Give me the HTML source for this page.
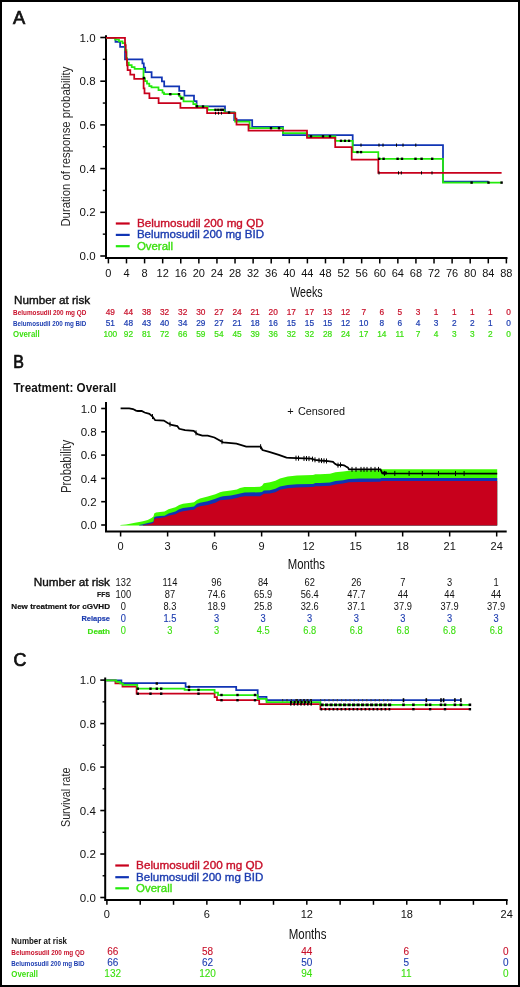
<!DOCTYPE html>
<html><head><meta charset="utf-8"><title>Figure</title>
<style>
html,body{margin:0;padding:0;background:#fff;}
body{width:520px;height:987px;overflow:hidden;}
svg{display:block;font-family:"Liberation Sans", sans-serif;will-change:transform;}
</style></head><body>
<svg width="520" height="987" viewBox="0 0 520 987">
<rect x="0" y="0" width="520" height="987" fill="#fff"/>
<rect x="1" y="1" width="518" height="985" fill="none" stroke="#000" stroke-width="2"/>
<text x="13.1" y="23.8" font-size="17.5" fill="#111" text-anchor="start" font-weight="normal" textLength="12.2" lengthAdjust="spacingAndGlyphs" stroke="#111" stroke-width="0.7">A</text>
<path d="M106 35.3 V259 M105 258 H507.5" stroke="#000" stroke-width="2" fill="none"/>
<line x1="100.3" y1="256" x2="106" y2="256" stroke="#000" stroke-width="1.6"/>
<text x="95.6" y="260.1" font-size="11.5" fill="#111" text-anchor="end" font-weight="normal">0.0</text>
<line x1="100.3" y1="212.3" x2="106" y2="212.3" stroke="#000" stroke-width="1.6"/>
<text x="95.6" y="216.4" font-size="11.5" fill="#111" text-anchor="end" font-weight="normal">0.2</text>
<line x1="100.3" y1="168.6" x2="106" y2="168.6" stroke="#000" stroke-width="1.6"/>
<text x="95.6" y="172.7" font-size="11.5" fill="#111" text-anchor="end" font-weight="normal">0.4</text>
<line x1="100.3" y1="124.9" x2="106" y2="124.9" stroke="#000" stroke-width="1.6"/>
<text x="95.6" y="129" font-size="11.5" fill="#111" text-anchor="end" font-weight="normal">0.6</text>
<line x1="100.3" y1="81.2" x2="106" y2="81.2" stroke="#000" stroke-width="1.6"/>
<text x="95.6" y="85.3" font-size="11.5" fill="#111" text-anchor="end" font-weight="normal">0.8</text>
<line x1="100.3" y1="37.5" x2="106" y2="37.5" stroke="#000" stroke-width="1.6"/>
<text x="95.6" y="41.6" font-size="11.5" fill="#111" text-anchor="end" font-weight="normal">1.0</text>
<line x1="102.8" y1="234.15" x2="106" y2="234.15" stroke="#000" stroke-width="1.4"/>
<line x1="102.8" y1="190.45" x2="106" y2="190.45" stroke="#000" stroke-width="1.4"/>
<line x1="102.8" y1="146.75" x2="106" y2="146.75" stroke="#000" stroke-width="1.4"/>
<line x1="102.8" y1="103.05" x2="106" y2="103.05" stroke="#000" stroke-width="1.4"/>
<line x1="102.8" y1="59.35" x2="106" y2="59.35" stroke="#000" stroke-width="1.4"/>
<line x1="108.4" y1="258" x2="108.4" y2="263.4" stroke="#000" stroke-width="1.5"/>
<text x="108.4" y="276.66" font-size="11" fill="#111" text-anchor="middle" font-weight="normal">0</text>
<line x1="126.49" y1="258" x2="126.49" y2="263.4" stroke="#000" stroke-width="1.5"/>
<text x="126.49" y="276.66" font-size="11" fill="#111" text-anchor="middle" font-weight="normal">4</text>
<line x1="144.58" y1="258" x2="144.58" y2="263.4" stroke="#000" stroke-width="1.5"/>
<text x="144.58" y="276.66" font-size="11" fill="#111" text-anchor="middle" font-weight="normal">8</text>
<line x1="162.67" y1="258" x2="162.67" y2="263.4" stroke="#000" stroke-width="1.5"/>
<text x="162.67" y="276.66" font-size="11" fill="#111" text-anchor="middle" font-weight="normal">12</text>
<line x1="180.76" y1="258" x2="180.76" y2="263.4" stroke="#000" stroke-width="1.5"/>
<text x="180.76" y="276.66" font-size="11" fill="#111" text-anchor="middle" font-weight="normal">16</text>
<line x1="198.85" y1="258" x2="198.85" y2="263.4" stroke="#000" stroke-width="1.5"/>
<text x="198.85" y="276.66" font-size="11" fill="#111" text-anchor="middle" font-weight="normal">20</text>
<line x1="216.94" y1="258" x2="216.94" y2="263.4" stroke="#000" stroke-width="1.5"/>
<text x="216.94" y="276.66" font-size="11" fill="#111" text-anchor="middle" font-weight="normal">24</text>
<line x1="235.03" y1="258" x2="235.03" y2="263.4" stroke="#000" stroke-width="1.5"/>
<text x="235.03" y="276.66" font-size="11" fill="#111" text-anchor="middle" font-weight="normal">28</text>
<line x1="253.12" y1="258" x2="253.12" y2="263.4" stroke="#000" stroke-width="1.5"/>
<text x="253.12" y="276.66" font-size="11" fill="#111" text-anchor="middle" font-weight="normal">32</text>
<line x1="271.21" y1="258" x2="271.21" y2="263.4" stroke="#000" stroke-width="1.5"/>
<text x="271.21" y="276.66" font-size="11" fill="#111" text-anchor="middle" font-weight="normal">36</text>
<line x1="289.3" y1="258" x2="289.3" y2="263.4" stroke="#000" stroke-width="1.5"/>
<text x="289.3" y="276.66" font-size="11" fill="#111" text-anchor="middle" font-weight="normal">40</text>
<line x1="307.39" y1="258" x2="307.39" y2="263.4" stroke="#000" stroke-width="1.5"/>
<text x="307.39" y="276.66" font-size="11" fill="#111" text-anchor="middle" font-weight="normal">44</text>
<line x1="325.48" y1="258" x2="325.48" y2="263.4" stroke="#000" stroke-width="1.5"/>
<text x="325.48" y="276.66" font-size="11" fill="#111" text-anchor="middle" font-weight="normal">48</text>
<line x1="343.57" y1="258" x2="343.57" y2="263.4" stroke="#000" stroke-width="1.5"/>
<text x="343.57" y="276.66" font-size="11" fill="#111" text-anchor="middle" font-weight="normal">52</text>
<line x1="361.66" y1="258" x2="361.66" y2="263.4" stroke="#000" stroke-width="1.5"/>
<text x="361.66" y="276.66" font-size="11" fill="#111" text-anchor="middle" font-weight="normal">56</text>
<line x1="379.75" y1="258" x2="379.75" y2="263.4" stroke="#000" stroke-width="1.5"/>
<text x="379.75" y="276.66" font-size="11" fill="#111" text-anchor="middle" font-weight="normal">60</text>
<line x1="397.84" y1="258" x2="397.84" y2="263.4" stroke="#000" stroke-width="1.5"/>
<text x="397.84" y="276.66" font-size="11" fill="#111" text-anchor="middle" font-weight="normal">64</text>
<line x1="415.93" y1="258" x2="415.93" y2="263.4" stroke="#000" stroke-width="1.5"/>
<text x="415.93" y="276.66" font-size="11" fill="#111" text-anchor="middle" font-weight="normal">68</text>
<line x1="434.02" y1="258" x2="434.02" y2="263.4" stroke="#000" stroke-width="1.5"/>
<text x="434.02" y="276.66" font-size="11" fill="#111" text-anchor="middle" font-weight="normal">72</text>
<line x1="452.11" y1="258" x2="452.11" y2="263.4" stroke="#000" stroke-width="1.5"/>
<text x="452.11" y="276.66" font-size="11" fill="#111" text-anchor="middle" font-weight="normal">76</text>
<line x1="470.2" y1="258" x2="470.2" y2="263.4" stroke="#000" stroke-width="1.5"/>
<text x="470.2" y="276.66" font-size="11" fill="#111" text-anchor="middle" font-weight="normal">80</text>
<line x1="488.29" y1="258" x2="488.29" y2="263.4" stroke="#000" stroke-width="1.5"/>
<text x="488.29" y="276.66" font-size="11" fill="#111" text-anchor="middle" font-weight="normal">84</text>
<line x1="506.38" y1="258" x2="506.38" y2="263.4" stroke="#000" stroke-width="1.5"/>
<text x="506.38" y="276.66" font-size="11" fill="#111" text-anchor="middle" font-weight="normal">88</text>
<text x="290.2" y="296.6" font-size="15" fill="#111" text-anchor="start" font-weight="normal" textLength="32.5" lengthAdjust="spacingAndGlyphs">Weeks</text>
<text transform="translate(70.2,226.6) rotate(-90)" font-size="13.6" fill="#2a2a2a" textLength="160" lengthAdjust="spacingAndGlyphs">Duration of response probability</text>
<polyline points="106,37.8 115.5,37.8 115.5,41.8 120.1,41.8 120.1,46.8 125,46.8 125,59.3 142.4,59.3 142.4,63.3 143.8,63.3 143.8,67.6 145.2,67.6 145.2,72.2 151.6,72.2 151.6,77.3 161.9,77.3 161.9,81.3 164.2,81.3 164.2,86.3 179.2,86.3 179.2,90.9 184.4,90.9 184.4,95.7 194,95.7 194,101.2 196.6,101.2 196.6,106.3 225,106.3 225,112.3 234.2,112.3 234.2,120 252.2,120 252.2,126.9 283,126.9 283,135 352.7,135 352.7,145.1 443,145.1 443,181.6 488.5,181.6" fill="none" stroke="#1034b4" stroke-width="1.75" stroke-linejoin="miter" stroke-linecap="butt"/>
<polyline points="106,37.8 115.2,37.8 115.2,39.6 119,39.6 119,41.3 122.5,41.3 122.5,43 125.3,43 125.3,50 126.5,50 126.5,58 127.1,58 127.1,62.6 128.8,62.6 128.8,65 131.7,65 131.7,67 134.6,67 134.6,68.8 143.5,68.8 143.5,78.3 145,78.3 145,81 147,81 147,83.5 149.3,83.5 149.3,86 151.5,86 151.5,87.3 158.5,87.3 158.5,90.2 162.5,90.2 162.5,92.5 164,92.5 164,94.2 179.2,94.2 179.2,96.2 180.4,96.2 180.4,97.3 183.5,97.3 183.5,101.3 193.3,101.3 193.3,104.2 196.1,104.2 196.1,106.5 207.7,106.5 207.7,109.8 224.4,109.8 224.4,112.5 235.1,112.5 235.1,121.5 249.6,121.5 249.6,128.2 283,128.2 283,133 307,133 307,136.3 335.4,136.3 335.4,140.8 352.7,140.8 352.7,152.1 378.3,152.1 378.3,158.8 443,158.8 443,182.6 501.6,182.6" fill="none" stroke="#24ea0c" stroke-width="1.75" stroke-linejoin="miter" stroke-linecap="butt"/>
<polyline points="106,37.8 125,37.8 125,45 125.7,45 125.7,52 126.3,52 126.3,59 127,59 127,65.4 127.6,65.4 127.6,70.1 130.3,70.1 130.3,74.7 134.2,74.7 134.2,78.8 143.6,78.8 143.6,88.3 144.5,88.3 144.5,93.4 149.4,93.4 149.4,98.2 158.6,98.2 158.6,103.2 180.4,103.2 180.4,107.8 207.1,107.8 207.1,113.2 235.3,113.2 235.3,118.7 236.5,118.7 236.5,124.6 248.5,124.6 248.5,130.5 307,130.5 307,137.9 335.2,137.9 335.2,147 351.7,147 351.7,159.5 378.3,159.5 378.3,172.9 501.6,172.9" fill="none" stroke="#c8001c" stroke-width="1.75" stroke-linejoin="miter" stroke-linecap="butt"/>
<rect x="142.7" y="76.8" width="2.4" height="2.4" fill="#000"/>
<rect x="169.1" y="93" width="2.4" height="2.4" fill="#000"/>
<rect x="177.8" y="93" width="2.4" height="2.4" fill="#000"/>
<rect x="180.3" y="97.3" width="2.4" height="2.4" fill="#000"/>
<rect x="214.3" y="108.6" width="2.4" height="2.4" fill="#000"/>
<rect x="217.1" y="108.6" width="2.4" height="2.4" fill="#000"/>
<rect x="219.8" y="108.6" width="2.4" height="2.4" fill="#000"/>
<rect x="221.8" y="108.6" width="2.4" height="2.4" fill="#000"/>
<rect x="227.8" y="111.3" width="2.4" height="2.4" fill="#000"/>
<rect x="269.8" y="127" width="2.4" height="2.4" fill="#000"/>
<rect x="277.8" y="127" width="2.4" height="2.4" fill="#000"/>
<rect x="309.8" y="135.1" width="2.4" height="2.4" fill="#000"/>
<rect x="321.8" y="135.1" width="2.4" height="2.4" fill="#000"/>
<rect x="328.8" y="135.1" width="2.4" height="2.4" fill="#000"/>
<rect x="339.8" y="139.6" width="2.4" height="2.4" fill="#000"/>
<rect x="343.8" y="139.6" width="2.4" height="2.4" fill="#000"/>
<rect x="347.8" y="139.6" width="2.4" height="2.4" fill="#000"/>
<rect x="356.3" y="150.9" width="2.4" height="2.4" fill="#000"/>
<rect x="359.8" y="150.9" width="2.4" height="2.4" fill="#000"/>
<rect x="378" y="157.6" width="2.4" height="2.4" fill="#000"/>
<rect x="382.4" y="157.6" width="2.4" height="2.4" fill="#000"/>
<rect x="396.4" y="157.6" width="2.4" height="2.4" fill="#000"/>
<rect x="400.8" y="157.6" width="2.4" height="2.4" fill="#000"/>
<rect x="414.3" y="157.6" width="2.4" height="2.4" fill="#000"/>
<rect x="420.4" y="157.6" width="2.4" height="2.4" fill="#000"/>
<rect x="431" y="157.6" width="2.4" height="2.4" fill="#000"/>
<rect x="470.4" y="181.4" width="2.4" height="2.4" fill="#000"/>
<rect x="487.3" y="181.4" width="2.4" height="2.4" fill="#000"/>
<rect x="500.4" y="181.4" width="2.4" height="2.4" fill="#000"/>
<rect x="195.8" y="105.1" width="2.4" height="2.4" fill="#000"/>
<rect x="201.8" y="105.3" width="2.4" height="2.4" fill="#000"/>
<rect x="360.5" y="143.5" width="1" height="3.2" fill="#000"/>
<rect x="378.5" y="143.5" width="1" height="3.2" fill="#000"/>
<rect x="382.5" y="143.5" width="1" height="3.2" fill="#000"/>
<rect x="396" y="143.5" width="1" height="3.2" fill="#000"/>
<rect x="402.5" y="143.5" width="1" height="3.2" fill="#000"/>
<rect x="415.3" y="143.5" width="1" height="3.2" fill="#000"/>
<rect x="378.5" y="171.3" width="1" height="3.2" fill="#000"/>
<rect x="398" y="171.3" width="1" height="3.2" fill="#000"/>
<rect x="400.8" y="171.3" width="1" height="3.2" fill="#000"/>
<rect x="421" y="171.3" width="1" height="3.2" fill="#000"/>
<rect x="431.5" y="171.3" width="1" height="3.2" fill="#000"/>
<rect x="215" y="111.8" width="1" height="2.8" fill="#000"/>
<rect x="218" y="111.8" width="1" height="2.8" fill="#000"/>
<rect x="221" y="111.8" width="1" height="2.8" fill="#000"/>
<line x1="115.8" y1="223.5" x2="129.7" y2="223.5" stroke="#c8001c" stroke-width="2.2"/>
<line x1="115.8" y1="234.9" x2="129.7" y2="234.9" stroke="#1034b4" stroke-width="2.2"/>
<line x1="115.8" y1="246.2" x2="129.7" y2="246.2" stroke="#24ea0c" stroke-width="2.2"/>
<text x="136.9" y="226.7" font-size="11" fill="#c8102a" text-anchor="start" font-weight="normal" textLength="126.8" lengthAdjust="spacingAndGlyphs" stroke="#c8102a" stroke-width="0.35">Belumosudil 200 mg QD</text>
<text x="136.9" y="238.4" font-size="11" fill="#1c3cb0" text-anchor="start" font-weight="normal" textLength="127.1" lengthAdjust="spacingAndGlyphs" stroke="#1c3cb0" stroke-width="0.35">Belumosudil 200 mg BID</text>
<text x="136.9" y="249.5" font-size="11" fill="#3ce010" text-anchor="start" font-weight="normal" textLength="36.2" lengthAdjust="spacingAndGlyphs" stroke="#3ce010" stroke-width="0.35">Overall</text>
<text x="14.1" y="303.5" font-size="11.5" fill="#111" text-anchor="start" font-weight="normal" textLength="76" lengthAdjust="spacingAndGlyphs" stroke="#111" stroke-width="0.4">Number at risk</text>
<text x="13.1" y="315.1" font-size="7" fill="#c8102a" text-anchor="start" font-weight="bold" textLength="73.2" lengthAdjust="spacingAndGlyphs">Belumosudil 200 mg QD</text>
<text x="13.1" y="325.6" font-size="7" fill="#1c3cb0" text-anchor="start" font-weight="bold" textLength="73.2" lengthAdjust="spacingAndGlyphs">Belumosudil 200 mg BID</text>
<text x="13.1" y="336.5" font-size="9" fill="#3ce010" text-anchor="start" font-weight="bold" textLength="26.5" lengthAdjust="spacingAndGlyphs">Overall</text>
<text x="110.3" y="315.09" font-size="8.3" fill="#c8102a" text-anchor="middle" font-weight="normal" stroke="#c8102a" stroke-width="0.2">49</text>
<text x="110.3" y="325.79" font-size="8.3" fill="#1c3cb0" text-anchor="middle" font-weight="normal" stroke="#1c3cb0" stroke-width="0.2">51</text>
<text x="110.3" y="336.59" font-size="8.3" fill="#3ce010" text-anchor="middle" font-weight="normal" stroke="#3ce010" stroke-width="0.2">100</text>
<text x="128.4" y="315.09" font-size="8.3" fill="#c8102a" text-anchor="middle" font-weight="normal" stroke="#c8102a" stroke-width="0.2">44</text>
<text x="128.4" y="325.79" font-size="8.3" fill="#1c3cb0" text-anchor="middle" font-weight="normal" stroke="#1c3cb0" stroke-width="0.2">48</text>
<text x="128.4" y="336.59" font-size="8.3" fill="#3ce010" text-anchor="middle" font-weight="normal" stroke="#3ce010" stroke-width="0.2">92</text>
<text x="146.5" y="315.09" font-size="8.3" fill="#c8102a" text-anchor="middle" font-weight="normal" stroke="#c8102a" stroke-width="0.2">38</text>
<text x="146.5" y="325.79" font-size="8.3" fill="#1c3cb0" text-anchor="middle" font-weight="normal" stroke="#1c3cb0" stroke-width="0.2">43</text>
<text x="146.5" y="336.59" font-size="8.3" fill="#3ce010" text-anchor="middle" font-weight="normal" stroke="#3ce010" stroke-width="0.2">81</text>
<text x="164.6" y="315.09" font-size="8.3" fill="#c8102a" text-anchor="middle" font-weight="normal" stroke="#c8102a" stroke-width="0.2">32</text>
<text x="164.6" y="325.79" font-size="8.3" fill="#1c3cb0" text-anchor="middle" font-weight="normal" stroke="#1c3cb0" stroke-width="0.2">40</text>
<text x="164.6" y="336.59" font-size="8.3" fill="#3ce010" text-anchor="middle" font-weight="normal" stroke="#3ce010" stroke-width="0.2">72</text>
<text x="182.7" y="315.09" font-size="8.3" fill="#c8102a" text-anchor="middle" font-weight="normal" stroke="#c8102a" stroke-width="0.2">32</text>
<text x="182.7" y="325.79" font-size="8.3" fill="#1c3cb0" text-anchor="middle" font-weight="normal" stroke="#1c3cb0" stroke-width="0.2">34</text>
<text x="182.7" y="336.59" font-size="8.3" fill="#3ce010" text-anchor="middle" font-weight="normal" stroke="#3ce010" stroke-width="0.2">66</text>
<text x="200.8" y="315.09" font-size="8.3" fill="#c8102a" text-anchor="middle" font-weight="normal" stroke="#c8102a" stroke-width="0.2">30</text>
<text x="200.8" y="325.79" font-size="8.3" fill="#1c3cb0" text-anchor="middle" font-weight="normal" stroke="#1c3cb0" stroke-width="0.2">29</text>
<text x="200.8" y="336.59" font-size="8.3" fill="#3ce010" text-anchor="middle" font-weight="normal" stroke="#3ce010" stroke-width="0.2">59</text>
<text x="218.9" y="315.09" font-size="8.3" fill="#c8102a" text-anchor="middle" font-weight="normal" stroke="#c8102a" stroke-width="0.2">27</text>
<text x="218.9" y="325.79" font-size="8.3" fill="#1c3cb0" text-anchor="middle" font-weight="normal" stroke="#1c3cb0" stroke-width="0.2">27</text>
<text x="218.9" y="336.59" font-size="8.3" fill="#3ce010" text-anchor="middle" font-weight="normal" stroke="#3ce010" stroke-width="0.2">54</text>
<text x="237" y="315.09" font-size="8.3" fill="#c8102a" text-anchor="middle" font-weight="normal" stroke="#c8102a" stroke-width="0.2">24</text>
<text x="237" y="325.79" font-size="8.3" fill="#1c3cb0" text-anchor="middle" font-weight="normal" stroke="#1c3cb0" stroke-width="0.2">21</text>
<text x="237" y="336.59" font-size="8.3" fill="#3ce010" text-anchor="middle" font-weight="normal" stroke="#3ce010" stroke-width="0.2">45</text>
<text x="255.1" y="315.09" font-size="8.3" fill="#c8102a" text-anchor="middle" font-weight="normal" stroke="#c8102a" stroke-width="0.2">21</text>
<text x="255.1" y="325.79" font-size="8.3" fill="#1c3cb0" text-anchor="middle" font-weight="normal" stroke="#1c3cb0" stroke-width="0.2">18</text>
<text x="255.1" y="336.59" font-size="8.3" fill="#3ce010" text-anchor="middle" font-weight="normal" stroke="#3ce010" stroke-width="0.2">39</text>
<text x="273.2" y="315.09" font-size="8.3" fill="#c8102a" text-anchor="middle" font-weight="normal" stroke="#c8102a" stroke-width="0.2">20</text>
<text x="273.2" y="325.79" font-size="8.3" fill="#1c3cb0" text-anchor="middle" font-weight="normal" stroke="#1c3cb0" stroke-width="0.2">16</text>
<text x="273.2" y="336.59" font-size="8.3" fill="#3ce010" text-anchor="middle" font-weight="normal" stroke="#3ce010" stroke-width="0.2">36</text>
<text x="291.3" y="315.09" font-size="8.3" fill="#c8102a" text-anchor="middle" font-weight="normal" stroke="#c8102a" stroke-width="0.2">17</text>
<text x="291.3" y="325.79" font-size="8.3" fill="#1c3cb0" text-anchor="middle" font-weight="normal" stroke="#1c3cb0" stroke-width="0.2">15</text>
<text x="291.3" y="336.59" font-size="8.3" fill="#3ce010" text-anchor="middle" font-weight="normal" stroke="#3ce010" stroke-width="0.2">32</text>
<text x="309.4" y="315.09" font-size="8.3" fill="#c8102a" text-anchor="middle" font-weight="normal" stroke="#c8102a" stroke-width="0.2">17</text>
<text x="309.4" y="325.79" font-size="8.3" fill="#1c3cb0" text-anchor="middle" font-weight="normal" stroke="#1c3cb0" stroke-width="0.2">15</text>
<text x="309.4" y="336.59" font-size="8.3" fill="#3ce010" text-anchor="middle" font-weight="normal" stroke="#3ce010" stroke-width="0.2">32</text>
<text x="327.5" y="315.09" font-size="8.3" fill="#c8102a" text-anchor="middle" font-weight="normal" stroke="#c8102a" stroke-width="0.2">13</text>
<text x="327.5" y="325.79" font-size="8.3" fill="#1c3cb0" text-anchor="middle" font-weight="normal" stroke="#1c3cb0" stroke-width="0.2">15</text>
<text x="327.5" y="336.59" font-size="8.3" fill="#3ce010" text-anchor="middle" font-weight="normal" stroke="#3ce010" stroke-width="0.2">28</text>
<text x="345.6" y="315.09" font-size="8.3" fill="#c8102a" text-anchor="middle" font-weight="normal" stroke="#c8102a" stroke-width="0.2">12</text>
<text x="345.6" y="325.79" font-size="8.3" fill="#1c3cb0" text-anchor="middle" font-weight="normal" stroke="#1c3cb0" stroke-width="0.2">12</text>
<text x="345.6" y="336.59" font-size="8.3" fill="#3ce010" text-anchor="middle" font-weight="normal" stroke="#3ce010" stroke-width="0.2">24</text>
<text x="363.7" y="315.09" font-size="8.3" fill="#c8102a" text-anchor="middle" font-weight="normal" stroke="#c8102a" stroke-width="0.2">7</text>
<text x="363.7" y="325.79" font-size="8.3" fill="#1c3cb0" text-anchor="middle" font-weight="normal" stroke="#1c3cb0" stroke-width="0.2">10</text>
<text x="363.7" y="336.59" font-size="8.3" fill="#3ce010" text-anchor="middle" font-weight="normal" stroke="#3ce010" stroke-width="0.2">17</text>
<text x="381.8" y="315.09" font-size="8.3" fill="#c8102a" text-anchor="middle" font-weight="normal" stroke="#c8102a" stroke-width="0.2">6</text>
<text x="381.8" y="325.79" font-size="8.3" fill="#1c3cb0" text-anchor="middle" font-weight="normal" stroke="#1c3cb0" stroke-width="0.2">8</text>
<text x="381.8" y="336.59" font-size="8.3" fill="#3ce010" text-anchor="middle" font-weight="normal" stroke="#3ce010" stroke-width="0.2">14</text>
<text x="399.9" y="315.09" font-size="8.3" fill="#c8102a" text-anchor="middle" font-weight="normal" stroke="#c8102a" stroke-width="0.2">5</text>
<text x="399.9" y="325.79" font-size="8.3" fill="#1c3cb0" text-anchor="middle" font-weight="normal" stroke="#1c3cb0" stroke-width="0.2">6</text>
<text x="399.9" y="336.59" font-size="8.3" fill="#3ce010" text-anchor="middle" font-weight="normal" stroke="#3ce010" stroke-width="0.2">11</text>
<text x="418" y="315.09" font-size="8.3" fill="#c8102a" text-anchor="middle" font-weight="normal" stroke="#c8102a" stroke-width="0.2">3</text>
<text x="418" y="325.79" font-size="8.3" fill="#1c3cb0" text-anchor="middle" font-weight="normal" stroke="#1c3cb0" stroke-width="0.2">4</text>
<text x="418" y="336.59" font-size="8.3" fill="#3ce010" text-anchor="middle" font-weight="normal" stroke="#3ce010" stroke-width="0.2">7</text>
<text x="436.1" y="315.09" font-size="8.3" fill="#c8102a" text-anchor="middle" font-weight="normal" stroke="#c8102a" stroke-width="0.2">1</text>
<text x="436.1" y="325.79" font-size="8.3" fill="#1c3cb0" text-anchor="middle" font-weight="normal" stroke="#1c3cb0" stroke-width="0.2">3</text>
<text x="436.1" y="336.59" font-size="8.3" fill="#3ce010" text-anchor="middle" font-weight="normal" stroke="#3ce010" stroke-width="0.2">4</text>
<text x="454.2" y="315.09" font-size="8.3" fill="#c8102a" text-anchor="middle" font-weight="normal" stroke="#c8102a" stroke-width="0.2">1</text>
<text x="454.2" y="325.79" font-size="8.3" fill="#1c3cb0" text-anchor="middle" font-weight="normal" stroke="#1c3cb0" stroke-width="0.2">2</text>
<text x="454.2" y="336.59" font-size="8.3" fill="#3ce010" text-anchor="middle" font-weight="normal" stroke="#3ce010" stroke-width="0.2">3</text>
<text x="472.3" y="315.09" font-size="8.3" fill="#c8102a" text-anchor="middle" font-weight="normal" stroke="#c8102a" stroke-width="0.2">1</text>
<text x="472.3" y="325.79" font-size="8.3" fill="#1c3cb0" text-anchor="middle" font-weight="normal" stroke="#1c3cb0" stroke-width="0.2">2</text>
<text x="472.3" y="336.59" font-size="8.3" fill="#3ce010" text-anchor="middle" font-weight="normal" stroke="#3ce010" stroke-width="0.2">3</text>
<text x="490.4" y="315.09" font-size="8.3" fill="#c8102a" text-anchor="middle" font-weight="normal" stroke="#c8102a" stroke-width="0.2">1</text>
<text x="490.4" y="325.79" font-size="8.3" fill="#1c3cb0" text-anchor="middle" font-weight="normal" stroke="#1c3cb0" stroke-width="0.2">1</text>
<text x="490.4" y="336.59" font-size="8.3" fill="#3ce010" text-anchor="middle" font-weight="normal" stroke="#3ce010" stroke-width="0.2">2</text>
<text x="508.5" y="315.09" font-size="8.3" fill="#c8102a" text-anchor="middle" font-weight="normal" stroke="#c8102a" stroke-width="0.2">0</text>
<text x="508.5" y="325.79" font-size="8.3" fill="#1c3cb0" text-anchor="middle" font-weight="normal" stroke="#1c3cb0" stroke-width="0.2">0</text>
<text x="508.5" y="336.59" font-size="8.3" fill="#3ce010" text-anchor="middle" font-weight="normal" stroke="#3ce010" stroke-width="0.2">0</text>
<text x="13.2" y="367.9" font-size="17.5" fill="#111" text-anchor="start" font-weight="normal" textLength="10.7" lengthAdjust="spacingAndGlyphs" stroke="#111" stroke-width="0.7">B</text>
<text x="13.6" y="391.8" font-size="12.3" fill="#111" text-anchor="start" font-weight="bold" textLength="102.6" lengthAdjust="spacingAndGlyphs">Treatment: Overall</text>
<path d="M106 401.9 V532.4 M105 531.4 H506.7" stroke="#000" stroke-width="2" fill="none"/>
<line x1="101.2" y1="525" x2="106" y2="525" stroke="#000" stroke-width="1.6"/>
<text x="96.7" y="529.1" font-size="11.5" fill="#111" text-anchor="end" font-weight="normal">0.0</text>
<line x1="101.2" y1="501.7" x2="106" y2="501.7" stroke="#000" stroke-width="1.6"/>
<text x="96.7" y="505.8" font-size="11.5" fill="#111" text-anchor="end" font-weight="normal">0.2</text>
<line x1="101.2" y1="478.4" x2="106" y2="478.4" stroke="#000" stroke-width="1.6"/>
<text x="96.7" y="482.5" font-size="11.5" fill="#111" text-anchor="end" font-weight="normal">0.4</text>
<line x1="101.2" y1="455.1" x2="106" y2="455.1" stroke="#000" stroke-width="1.6"/>
<text x="96.7" y="459.2" font-size="11.5" fill="#111" text-anchor="end" font-weight="normal">0.6</text>
<line x1="101.2" y1="431.8" x2="106" y2="431.8" stroke="#000" stroke-width="1.6"/>
<text x="96.7" y="435.9" font-size="11.5" fill="#111" text-anchor="end" font-weight="normal">0.8</text>
<line x1="101.2" y1="408.5" x2="106" y2="408.5" stroke="#000" stroke-width="1.6"/>
<text x="96.7" y="412.6" font-size="11.5" fill="#111" text-anchor="end" font-weight="normal">1.0</text>
<line x1="120.6" y1="531.4" x2="120.6" y2="536.5" stroke="#000" stroke-width="1.5"/>
<text x="120.6" y="549.96" font-size="11" fill="#111" text-anchor="middle" font-weight="normal">0</text>
<line x1="167.61" y1="531.4" x2="167.61" y2="536.5" stroke="#000" stroke-width="1.5"/>
<text x="167.61" y="549.96" font-size="11" fill="#111" text-anchor="middle" font-weight="normal">3</text>
<line x1="214.62" y1="531.4" x2="214.62" y2="536.5" stroke="#000" stroke-width="1.5"/>
<text x="214.62" y="549.96" font-size="11" fill="#111" text-anchor="middle" font-weight="normal">6</text>
<line x1="261.63" y1="531.4" x2="261.63" y2="536.5" stroke="#000" stroke-width="1.5"/>
<text x="261.63" y="549.96" font-size="11" fill="#111" text-anchor="middle" font-weight="normal">9</text>
<line x1="308.64" y1="531.4" x2="308.64" y2="536.5" stroke="#000" stroke-width="1.5"/>
<text x="308.64" y="549.96" font-size="11" fill="#111" text-anchor="middle" font-weight="normal">12</text>
<line x1="355.65" y1="531.4" x2="355.65" y2="536.5" stroke="#000" stroke-width="1.5"/>
<text x="355.65" y="549.96" font-size="11" fill="#111" text-anchor="middle" font-weight="normal">15</text>
<line x1="402.66" y1="531.4" x2="402.66" y2="536.5" stroke="#000" stroke-width="1.5"/>
<text x="402.66" y="549.96" font-size="11" fill="#111" text-anchor="middle" font-weight="normal">18</text>
<line x1="449.67" y1="531.4" x2="449.67" y2="536.5" stroke="#000" stroke-width="1.5"/>
<text x="449.67" y="549.96" font-size="11" fill="#111" text-anchor="middle" font-weight="normal">21</text>
<line x1="496.68" y1="531.4" x2="496.68" y2="536.5" stroke="#000" stroke-width="1.5"/>
<text x="496.68" y="549.96" font-size="11" fill="#111" text-anchor="middle" font-weight="normal">24</text>
<text x="287.8" y="569.1" font-size="14.5" fill="#111" text-anchor="start" font-weight="normal" textLength="37.2" lengthAdjust="spacingAndGlyphs">Months</text>
<text transform="translate(70.6,493.1) rotate(-90)" font-size="14.8" fill="#2a2a2a" textLength="53.2" lengthAdjust="spacingAndGlyphs">Probability</text>
<polygon points="120.4,525 126,524.5 130,523.8 135,522.7 139.2,522 143,521.2 147.7,520 151.5,518.1 153.5,516.5 154.2,513.5 156,512.5 160,512.1 164.6,511.5 168.5,509.2 175.4,507.3 179.2,505 183,503.8 190.8,502.7 194,502.3 196.9,500 200,498.6 207.7,496.5 215.4,494.2 220,492.3 223,491.4 230.8,490.4 236.9,489.6 240,488.1 244.6,487.1 260,486.8 262,485.8 263.8,483.2 270,482.3 275.4,480.8 280,478.5 287.7,476.5 296.9,475.5 313,474.9 315.4,474.3 320,474.3 330,473.8 335.4,472.2 343,471.5 349,470.7 360,470.3 380,470.2 381.5,469.2 497.2,469.2 497.2,525.4 120.4,525.4" fill="#3cfa00" stroke="none"/>
<polygon points="139.2,525 143,524.2 147.7,523.1 151.5,522.3 153.5,521.5 154.2,517.3 156,516.5 160,516 164.6,515.8 168.5,513.5 175.4,511.5 179.2,509.2 183,508.1 190.8,506.9 194,506.4 196.9,503.8 200,502.7 207.7,501.2 215.4,498.8 220,496.9 223,496.3 230.8,495.4 236.9,494.2 240,493.5 244.6,492.5 260,492.3 262,491.9 263.8,490.4 270,490.2 275.4,488.8 280,486.5 287.7,485.1 296.9,484.2 313,483.9 315.4,482.9 320,482.9 330,482.6 335.4,481.1 343,480.3 349,478.9 360,478.6 380,478.4 381.5,478 497.2,478 497.2,525.4 139.2,525.4" fill="#1034b4" stroke="none"/>
<polygon points="143,525 147.7,524.5 151.5,523.5 153.5,522.7 154.2,519.2 156,518.3 160,517.9 164.6,517.3 168.5,515.8 175.4,514.2 179.2,512.3 183,511.2 190.8,510 194,509.8 196.9,507.2 200,506.2 207.7,505 215.4,502.7 220,500.2 223,500 230.8,499.2 236.9,498.1 240,496.9 244.6,496.2 260,496.2 262,495 263.8,493.8 270,493.5 275.4,492.3 280,489.8 287.7,488.2 296.9,487.4 313,487 315.4,486.2 320,486.3 330,485.8 335.4,484.5 343,483.4 349,482.2 360,481.9 380,481.8 381.5,481.1 497.2,481.1 497.2,525.4 143,525.4" fill="#c8001c" stroke="none"/>
<polyline points="120.6,408.3 129.2,408.3 133,409 136,410.6 137.9,411 141.7,411 144.6,412.5 149.4,413.8 152.3,416.3 155.2,420.2 163.8,420.6 167.7,423 171.5,425 177.3,426 179.2,428.8 185,430.2 193.7,430.8 197.5,434.2 202.3,435.6 207.7,435.6 214.4,437.5 223.1,442.3 236.5,443.7 246.2,446.7 260.6,446.7 262.5,450 269.2,451.9 278.8,454.8 286.5,457.7 290,457.9 311.2,458.7 315,459.8 320,460.5 328,461.1 333,461.8 335,463.8 337.7,465.2 341,464.8 344,465.3 346,466.5 348,467.6 349,469.4 380.5,469.4 382.3,473.4 497.2,473.6" fill="none" stroke="#000" stroke-width="1.8" stroke-linejoin="miter" stroke-linecap="butt" stroke-linejoin="round"/>
<rect x="152" y="414.07" width="1" height="5" fill="#000"/>
<rect x="169.5" y="421.71" width="1" height="5" fill="#000"/>
<rect x="195.5" y="430.36" width="1" height="5" fill="#000"/>
<rect x="221.5" y="439.19" width="1" height="5" fill="#000"/>
<rect x="260.1" y="444.2" width="1" height="5" fill="#000"/>
<rect x="295.5" y="455.63" width="1" height="5" fill="#000"/>
<rect x="298" y="455.72" width="1" height="5" fill="#000"/>
<rect x="303.5" y="455.93" width="1" height="5" fill="#000"/>
<rect x="306" y="456.02" width="1" height="5" fill="#000"/>
<rect x="308.5" y="456.12" width="1" height="5" fill="#000"/>
<rect x="312" y="456.58" width="1" height="5" fill="#000"/>
<rect x="314.5" y="457.3" width="1" height="5" fill="#000"/>
<rect x="318.5" y="457.86" width="1" height="5" fill="#000"/>
<rect x="321" y="458.11" width="1" height="5" fill="#000"/>
<rect x="323.5" y="458.3" width="1" height="5" fill="#000"/>
<rect x="326" y="458.49" width="1" height="5" fill="#000"/>
<rect x="337.5" y="462.66" width="1" height="5" fill="#000"/>
<rect x="340" y="462.36" width="1" height="5" fill="#000"/>
<rect x="351.5" y="466.9" width="1" height="5" fill="#000"/>
<rect x="355.5" y="466.9" width="1" height="5" fill="#000"/>
<rect x="360.5" y="466.9" width="1" height="5" fill="#000"/>
<rect x="363.5" y="466.9" width="1" height="5" fill="#000"/>
<rect x="366.5" y="466.9" width="1" height="5" fill="#000"/>
<rect x="370.5" y="466.9" width="1" height="5" fill="#000"/>
<rect x="374.5" y="466.9" width="1" height="5" fill="#000"/>
<rect x="378" y="466.9" width="1" height="5" fill="#000"/>
<rect x="384" y="470.9" width="1" height="5" fill="#000"/>
<rect x="394.3" y="470.92" width="1" height="5" fill="#000"/>
<rect x="408.6" y="470.95" width="1" height="5" fill="#000"/>
<rect x="421.8" y="470.97" width="1" height="5" fill="#000"/>
<rect x="438" y="471" width="1" height="5" fill="#000"/>
<rect x="455" y="471.03" width="1" height="5" fill="#000"/>
<rect x="463.6" y="471.04" width="1" height="5" fill="#000"/>
<rect x="382.9" y="471.6" width="2.8" height="2.8" fill="#000"/>
<rect x="384.1" y="471.6" width="2.8" height="2.8" fill="#000"/>
<text x="287.3" y="415.4" font-size="11" fill="#111" text-anchor="start" font-weight="normal">+</text>
<text x="297.9" y="415.4" font-size="11" fill="#111" text-anchor="start" font-weight="normal" textLength="47.1" lengthAdjust="spacingAndGlyphs">Censored</text>
<text x="110" y="585.6" font-size="11.5" fill="#111" text-anchor="end" font-weight="normal" textLength="76.3" lengthAdjust="spacingAndGlyphs" stroke="#111" stroke-width="0.4">Number at risk</text>
<text x="110" y="597" font-size="7.9" fill="#111" text-anchor="end" font-weight="bold" textLength="13" lengthAdjust="spacingAndGlyphs" stroke="#111" stroke-width="0.2">FFS</text>
<text x="110" y="609.1" font-size="7.9" fill="#111" text-anchor="end" font-weight="bold" textLength="98.7" lengthAdjust="spacingAndGlyphs" stroke="#111" stroke-width="0.2">New treatment for cGVHD</text>
<text x="110" y="620.9" font-size="7.9" fill="#1c3cb0" text-anchor="end" font-weight="bold" textLength="28.6" lengthAdjust="spacingAndGlyphs" stroke="#1c3cb0" stroke-width="0.15">Relapse</text>
<text x="110" y="633.6" font-size="7.9" fill="#3ce010" text-anchor="end" font-weight="bold" textLength="22.4" lengthAdjust="spacingAndGlyphs" stroke="#3ce010" stroke-width="0.15">Death</text>
<text transform="translate(123.3,586) scale(0.93,1)" font-size="10" fill="#111" text-anchor="middle">132</text>
<text transform="translate(169.9,586) scale(0.93,1)" font-size="10" fill="#111" text-anchor="middle">114</text>
<text transform="translate(216.5,586) scale(0.93,1)" font-size="10" fill="#111" text-anchor="middle">96</text>
<text transform="translate(263.1,586) scale(0.93,1)" font-size="10" fill="#111" text-anchor="middle">84</text>
<text transform="translate(309.7,586) scale(0.93,1)" font-size="10" fill="#111" text-anchor="middle">62</text>
<text transform="translate(356.3,586) scale(0.93,1)" font-size="10" fill="#111" text-anchor="middle">26</text>
<text transform="translate(402.9,586) scale(0.93,1)" font-size="10" fill="#111" text-anchor="middle">7</text>
<text transform="translate(449.5,586) scale(0.93,1)" font-size="10" fill="#111" text-anchor="middle">3</text>
<text transform="translate(496.1,586) scale(0.93,1)" font-size="10" fill="#111" text-anchor="middle">1</text>
<text transform="translate(123.3,597.9) scale(0.93,1)" font-size="10" fill="#111" text-anchor="middle">100</text>
<text transform="translate(169.9,597.9) scale(0.93,1)" font-size="10" fill="#111" text-anchor="middle">87</text>
<text transform="translate(216.5,597.9) scale(0.93,1)" font-size="10" fill="#111" text-anchor="middle">74.6</text>
<text transform="translate(263.1,597.9) scale(0.93,1)" font-size="10" fill="#111" text-anchor="middle">65.9</text>
<text transform="translate(309.7,597.9) scale(0.93,1)" font-size="10" fill="#111" text-anchor="middle">56.4</text>
<text transform="translate(356.3,597.9) scale(0.93,1)" font-size="10" fill="#111" text-anchor="middle">47.7</text>
<text transform="translate(402.9,597.9) scale(0.93,1)" font-size="10" fill="#111" text-anchor="middle">44</text>
<text transform="translate(449.5,597.9) scale(0.93,1)" font-size="10" fill="#111" text-anchor="middle">44</text>
<text transform="translate(496.1,597.9) scale(0.93,1)" font-size="10" fill="#111" text-anchor="middle">44</text>
<text transform="translate(123.3,609.8) scale(0.93,1)" font-size="10" fill="#111" text-anchor="middle">0</text>
<text transform="translate(169.9,609.8) scale(0.93,1)" font-size="10" fill="#111" text-anchor="middle">8.3</text>
<text transform="translate(216.5,609.8) scale(0.93,1)" font-size="10" fill="#111" text-anchor="middle">18.9</text>
<text transform="translate(263.1,609.8) scale(0.93,1)" font-size="10" fill="#111" text-anchor="middle">25.8</text>
<text transform="translate(309.7,609.8) scale(0.93,1)" font-size="10" fill="#111" text-anchor="middle">32.6</text>
<text transform="translate(356.3,609.8) scale(0.93,1)" font-size="10" fill="#111" text-anchor="middle">37.1</text>
<text transform="translate(402.9,609.8) scale(0.93,1)" font-size="10" fill="#111" text-anchor="middle">37.9</text>
<text transform="translate(449.5,609.8) scale(0.93,1)" font-size="10" fill="#111" text-anchor="middle">37.9</text>
<text transform="translate(496.1,609.8) scale(0.93,1)" font-size="10" fill="#111" text-anchor="middle">37.9</text>
<text transform="translate(123.3,621.6) scale(0.93,1)" font-size="10" fill="#1c3cb0" text-anchor="middle" stroke="#1c3cb0" stroke-width="0.12">0</text>
<text transform="translate(169.9,621.6) scale(0.93,1)" font-size="10" fill="#1c3cb0" text-anchor="middle" stroke="#1c3cb0" stroke-width="0.12">1.5</text>
<text transform="translate(216.5,621.6) scale(0.93,1)" font-size="10" fill="#1c3cb0" text-anchor="middle" stroke="#1c3cb0" stroke-width="0.12">3</text>
<text transform="translate(263.1,621.6) scale(0.93,1)" font-size="10" fill="#1c3cb0" text-anchor="middle" stroke="#1c3cb0" stroke-width="0.12">3</text>
<text transform="translate(309.7,621.6) scale(0.93,1)" font-size="10" fill="#1c3cb0" text-anchor="middle" stroke="#1c3cb0" stroke-width="0.12">3</text>
<text transform="translate(356.3,621.6) scale(0.93,1)" font-size="10" fill="#1c3cb0" text-anchor="middle" stroke="#1c3cb0" stroke-width="0.12">3</text>
<text transform="translate(402.9,621.6) scale(0.93,1)" font-size="10" fill="#1c3cb0" text-anchor="middle" stroke="#1c3cb0" stroke-width="0.12">3</text>
<text transform="translate(449.5,621.6) scale(0.93,1)" font-size="10" fill="#1c3cb0" text-anchor="middle" stroke="#1c3cb0" stroke-width="0.12">3</text>
<text transform="translate(496.1,621.6) scale(0.93,1)" font-size="10" fill="#1c3cb0" text-anchor="middle" stroke="#1c3cb0" stroke-width="0.12">3</text>
<text transform="translate(123.3,634) scale(0.93,1)" font-size="10" fill="#3ce010" text-anchor="middle" stroke="#3ce010" stroke-width="0.12">0</text>
<text transform="translate(169.9,634) scale(0.93,1)" font-size="10" fill="#3ce010" text-anchor="middle" stroke="#3ce010" stroke-width="0.12">3</text>
<text transform="translate(216.5,634) scale(0.93,1)" font-size="10" fill="#3ce010" text-anchor="middle" stroke="#3ce010" stroke-width="0.12">3</text>
<text transform="translate(263.1,634) scale(0.93,1)" font-size="10" fill="#3ce010" text-anchor="middle" stroke="#3ce010" stroke-width="0.12">4.5</text>
<text transform="translate(309.7,634) scale(0.93,1)" font-size="10" fill="#3ce010" text-anchor="middle" stroke="#3ce010" stroke-width="0.12">6.8</text>
<text transform="translate(356.3,634) scale(0.93,1)" font-size="10" fill="#3ce010" text-anchor="middle" stroke="#3ce010" stroke-width="0.12">6.8</text>
<text transform="translate(402.9,634) scale(0.93,1)" font-size="10" fill="#3ce010" text-anchor="middle" stroke="#3ce010" stroke-width="0.12">6.8</text>
<text transform="translate(449.5,634) scale(0.93,1)" font-size="10" fill="#3ce010" text-anchor="middle" stroke="#3ce010" stroke-width="0.12">6.8</text>
<text transform="translate(496.1,634) scale(0.93,1)" font-size="10" fill="#3ce010" text-anchor="middle" stroke="#3ce010" stroke-width="0.12">6.8</text>
<text x="13.6" y="665.5" font-size="17.5" fill="#111" text-anchor="start" font-weight="normal" textLength="12.9" lengthAdjust="spacingAndGlyphs" stroke="#111" stroke-width="0.7">C</text>
<path d="M105.2 677.4 V901 M104.2 900 H507.7" stroke="#000" stroke-width="2" fill="none"/>
<line x1="100.3" y1="897.5" x2="105.2" y2="897.5" stroke="#000" stroke-width="1.6"/>
<text x="95.8" y="901.6" font-size="11.5" fill="#111" text-anchor="end" font-weight="normal">0.0</text>
<line x1="100.3" y1="854.02" x2="105.2" y2="854.02" stroke="#000" stroke-width="1.6"/>
<text x="95.8" y="858.12" font-size="11.5" fill="#111" text-anchor="end" font-weight="normal">0.2</text>
<line x1="100.3" y1="810.54" x2="105.2" y2="810.54" stroke="#000" stroke-width="1.6"/>
<text x="95.8" y="814.64" font-size="11.5" fill="#111" text-anchor="end" font-weight="normal">0.4</text>
<line x1="100.3" y1="767.06" x2="105.2" y2="767.06" stroke="#000" stroke-width="1.6"/>
<text x="95.8" y="771.16" font-size="11.5" fill="#111" text-anchor="end" font-weight="normal">0.6</text>
<line x1="100.3" y1="723.58" x2="105.2" y2="723.58" stroke="#000" stroke-width="1.6"/>
<text x="95.8" y="727.68" font-size="11.5" fill="#111" text-anchor="end" font-weight="normal">0.8</text>
<line x1="100.3" y1="680.1" x2="105.2" y2="680.1" stroke="#000" stroke-width="1.6"/>
<text x="95.8" y="684.2" font-size="11.5" fill="#111" text-anchor="end" font-weight="normal">1.0</text>
<line x1="102.6" y1="875.76" x2="105.2" y2="875.76" stroke="#000" stroke-width="1.4"/>
<line x1="102.6" y1="832.28" x2="105.2" y2="832.28" stroke="#000" stroke-width="1.4"/>
<line x1="102.6" y1="788.8" x2="105.2" y2="788.8" stroke="#000" stroke-width="1.4"/>
<line x1="102.6" y1="745.32" x2="105.2" y2="745.32" stroke="#000" stroke-width="1.4"/>
<line x1="102.6" y1="701.84" x2="105.2" y2="701.84" stroke="#000" stroke-width="1.4"/>
<line x1="106.9" y1="900" x2="106.9" y2="904.8" stroke="#000" stroke-width="1.5"/>
<text x="106.9" y="918.26" font-size="11" fill="#111" text-anchor="middle" font-weight="normal">0</text>
<line x1="140.22" y1="900" x2="140.22" y2="904.8" stroke="#000" stroke-width="1.5"/>
<line x1="173.54" y1="900" x2="173.54" y2="904.8" stroke="#000" stroke-width="1.5"/>
<line x1="206.86" y1="900" x2="206.86" y2="904.8" stroke="#000" stroke-width="1.5"/>
<text x="206.86" y="918.26" font-size="11" fill="#111" text-anchor="middle" font-weight="normal">6</text>
<line x1="240.18" y1="900" x2="240.18" y2="904.8" stroke="#000" stroke-width="1.5"/>
<line x1="273.5" y1="900" x2="273.5" y2="904.8" stroke="#000" stroke-width="1.5"/>
<line x1="306.82" y1="900" x2="306.82" y2="904.8" stroke="#000" stroke-width="1.5"/>
<text x="306.82" y="918.26" font-size="11" fill="#111" text-anchor="middle" font-weight="normal">12</text>
<line x1="340.14" y1="900" x2="340.14" y2="904.8" stroke="#000" stroke-width="1.5"/>
<line x1="373.46" y1="900" x2="373.46" y2="904.8" stroke="#000" stroke-width="1.5"/>
<line x1="406.78" y1="900" x2="406.78" y2="904.8" stroke="#000" stroke-width="1.5"/>
<text x="406.78" y="918.26" font-size="11" fill="#111" text-anchor="middle" font-weight="normal">18</text>
<line x1="440.1" y1="900" x2="440.1" y2="904.8" stroke="#000" stroke-width="1.5"/>
<line x1="473.42" y1="900" x2="473.42" y2="904.8" stroke="#000" stroke-width="1.5"/>
<line x1="506.74" y1="900" x2="506.74" y2="904.8" stroke="#000" stroke-width="1.5"/>
<text x="506.74" y="918.26" font-size="11" fill="#111" text-anchor="middle" font-weight="normal">24</text>
<text x="288.7" y="938.6" font-size="14.5" fill="#111" text-anchor="start" font-weight="normal" textLength="37.7" lengthAdjust="spacingAndGlyphs">Months</text>
<text transform="translate(70.2,827) rotate(-90)" font-size="13.6" fill="#2a2a2a" textLength="59.5" lengthAdjust="spacingAndGlyphs">Survival rate</text>
<polyline points="106,680.3 115.4,680.3 115.4,683.3 122.5,683.3 122.5,686.7 136.6,686.7 136.6,693.6 214.6,693.6 214.6,697 217,697 217,700.2 259.2,700.2 259.2,704.2 320.4,704.2 320.4,709.2 470.5,709.2" fill="none" stroke="#c8001c" stroke-width="1.75" stroke-linejoin="miter" stroke-linecap="butt"/>
<polyline points="106,680.3 121.4,680.3 121.4,683.2 185.6,683.2 185.6,686.8 236.2,686.8 236.2,690.2 257.7,690.2 257.7,696.9 266.5,696.9 266.5,700.2 461,700.2" fill="none" stroke="#1034b4" stroke-width="1.75" stroke-linejoin="miter" stroke-linecap="butt"/>
<polyline points="106,680.3 116.3,680.3 116.3,681.9 120.2,681.9 120.2,683.4 122.8,683.4 122.8,684.9 137.3,684.9 137.3,688.7 184.6,688.7 184.6,689.9 214.6,689.9 214.6,692.5 218,692.5 218,695 257.7,695 257.7,698.8 266.5,698.8 266.5,702.2 320.4,702.2 320.4,704.8 470.5,704.8" fill="none" stroke="#24ea0c" stroke-width="1.75" stroke-linejoin="miter" stroke-linecap="butt"/>
<rect x="136.6" y="687.5" width="2.4" height="2.4" fill="#000"/>
<rect x="149.3" y="687.5" width="2.4" height="2.4" fill="#000"/>
<rect x="155.6" y="687.5" width="2.4" height="2.4" fill="#000"/>
<rect x="160" y="687.5" width="2.4" height="2.4" fill="#000"/>
<rect x="187.8" y="688.7" width="2.4" height="2.4" fill="#000"/>
<rect x="197.3" y="688.7" width="2.4" height="2.4" fill="#000"/>
<rect x="220.3" y="693.8" width="2.4" height="2.4" fill="#000"/>
<rect x="236.3" y="693.8" width="2.4" height="2.4" fill="#000"/>
<rect x="253.8" y="693.8" width="2.4" height="2.4" fill="#000"/>
<rect x="136.6" y="692.5" width="2.4" height="2.4" fill="#000"/>
<rect x="149.3" y="692.5" width="2.4" height="2.4" fill="#000"/>
<rect x="160" y="692.5" width="2.4" height="2.4" fill="#000"/>
<rect x="197.3" y="692.5" width="2.4" height="2.4" fill="#000"/>
<rect x="220.3" y="699" width="2.4" height="2.4" fill="#000"/>
<rect x="236.3" y="699" width="2.4" height="2.4" fill="#000"/>
<rect x="253.8" y="699" width="2.4" height="2.4" fill="#000"/>
<rect x="155.6" y="682.3" width="2.4" height="2.4" fill="#000"/>
<rect x="187.8" y="685.6" width="2.4" height="2.4" fill="#000"/>
<line x1="282" y1="700.2" x2="296" y2="700.2" stroke="#333" stroke-width="2.2" stroke-dasharray="1.2 3.2"/>
<line x1="296" y1="700.2" x2="312" y2="700.2" stroke="#222" stroke-width="2.4" stroke-dasharray="2 1.5"/>
<line x1="320" y1="700.2" x2="392" y2="700.2" stroke="#444" stroke-width="2.2" stroke-dasharray="1.2 3"/>
<line x1="290" y1="702.2" x2="312" y2="702.2" stroke="#000" stroke-width="2.6" stroke-dasharray="2.2 1.3"/>
<line x1="290" y1="704.3" x2="312" y2="704.3" stroke="#000" stroke-width="2.4" stroke-dasharray="1.6 1.8"/>
<line x1="320.5" y1="704.8" x2="392" y2="704.8" stroke="#000" stroke-width="2.8" stroke-dasharray="3.2 1.3"/>
<line x1="320.5" y1="709.2" x2="392" y2="709.2" stroke="#000" stroke-width="2.4" stroke-dasharray="1.8 2.2"/>
<rect x="402.7" y="698.2" width="1.6" height="4" fill="#000"/>
<rect x="425.5" y="698.2" width="1.6" height="4" fill="#000"/>
<rect x="440.2" y="698.2" width="1.6" height="4" fill="#000"/>
<rect x="442.8" y="698.2" width="1.6" height="4" fill="#000"/>
<rect x="454.1" y="698.2" width="1.6" height="4" fill="#000"/>
<rect x="460.1" y="698.2" width="1.6" height="4" fill="#000"/>
<rect x="402.2" y="703.5" width="2.6" height="2.6" fill="#000"/>
<rect x="412.1" y="703.5" width="2.6" height="2.6" fill="#000"/>
<rect x="425" y="703.5" width="2.6" height="2.6" fill="#000"/>
<rect x="428.8" y="703.5" width="2.6" height="2.6" fill="#000"/>
<rect x="439.7" y="703.5" width="2.6" height="2.6" fill="#000"/>
<rect x="443.7" y="703.5" width="2.6" height="2.6" fill="#000"/>
<rect x="453.6" y="703.5" width="2.6" height="2.6" fill="#000"/>
<rect x="459.6" y="703.5" width="2.6" height="2.6" fill="#000"/>
<rect x="468.6" y="703.5" width="2.6" height="2.6" fill="#000"/>
<rect x="412.2" y="708" width="2.4" height="2.4" fill="#000"/>
<rect x="428.9" y="708" width="2.4" height="2.4" fill="#000"/>
<rect x="443.8" y="708" width="2.4" height="2.4" fill="#000"/>
<rect x="468.7" y="708" width="2.4" height="2.4" fill="#000"/>
<line x1="115.3" y1="865.5" x2="128.9" y2="865.5" stroke="#c8001c" stroke-width="2.2"/>
<line x1="115.3" y1="877.2" x2="128.9" y2="877.2" stroke="#1034b4" stroke-width="2.2"/>
<line x1="115.3" y1="888.3" x2="128.9" y2="888.3" stroke="#24ea0c" stroke-width="2.2"/>
<text x="136.1" y="868.8" font-size="11" fill="#c8102a" text-anchor="start" font-weight="normal" textLength="126.9" lengthAdjust="spacingAndGlyphs" stroke="#c8102a" stroke-width="0.35">Belumosudil 200 mg QD</text>
<text x="136.1" y="880.5" font-size="11" fill="#1c3cb0" text-anchor="start" font-weight="normal" textLength="127.2" lengthAdjust="spacingAndGlyphs" stroke="#1c3cb0" stroke-width="0.35">Belumosudil 200 mg BID</text>
<text x="136.1" y="891.7" font-size="11" fill="#3ce010" text-anchor="start" font-weight="normal" textLength="36.2" lengthAdjust="spacingAndGlyphs" stroke="#3ce010" stroke-width="0.35">Overall</text>
<text x="11.3" y="944.3" font-size="8.5" fill="#111" text-anchor="start" font-weight="bold" textLength="55.7" lengthAdjust="spacingAndGlyphs">Number at risk</text>
<text x="11.3" y="955.1" font-size="7" fill="#c8102a" text-anchor="start" font-weight="bold" textLength="73.2" lengthAdjust="spacingAndGlyphs">Belumosudil 200 mg QD</text>
<text x="11.3" y="966.4" font-size="7" fill="#1c3cb0" text-anchor="start" font-weight="bold" textLength="73.2" lengthAdjust="spacingAndGlyphs">Belumosudil 200 mg BID</text>
<text x="11.3" y="976.8" font-size="9" fill="#3ce010" text-anchor="start" font-weight="bold" textLength="26.7" lengthAdjust="spacingAndGlyphs">Overall</text>
<text x="112.7" y="955.1" font-size="10" fill="#c8102a" text-anchor="middle" font-weight="normal" stroke="#c8102a" stroke-width="0.1">66</text>
<text x="207.5" y="955.1" font-size="10" fill="#c8102a" text-anchor="middle" font-weight="normal" stroke="#c8102a" stroke-width="0.1">58</text>
<text x="306.8" y="955.1" font-size="10" fill="#c8102a" text-anchor="middle" font-weight="normal" stroke="#c8102a" stroke-width="0.1">44</text>
<text x="406.3" y="955.1" font-size="10" fill="#c8102a" text-anchor="middle" font-weight="normal" stroke="#c8102a" stroke-width="0.1">6</text>
<text x="505.9" y="955.1" font-size="10" fill="#c8102a" text-anchor="middle" font-weight="normal" stroke="#c8102a" stroke-width="0.1">0</text>
<text x="112.7" y="966.1" font-size="10" fill="#1c3cb0" text-anchor="middle" font-weight="normal" stroke="#1c3cb0" stroke-width="0.1">66</text>
<text x="207.5" y="966.1" font-size="10" fill="#1c3cb0" text-anchor="middle" font-weight="normal" stroke="#1c3cb0" stroke-width="0.1">62</text>
<text x="306.8" y="966.1" font-size="10" fill="#1c3cb0" text-anchor="middle" font-weight="normal" stroke="#1c3cb0" stroke-width="0.1">50</text>
<text x="406.3" y="966.1" font-size="10" fill="#1c3cb0" text-anchor="middle" font-weight="normal" stroke="#1c3cb0" stroke-width="0.1">5</text>
<text x="505.9" y="966.1" font-size="10" fill="#1c3cb0" text-anchor="middle" font-weight="normal" stroke="#1c3cb0" stroke-width="0.1">0</text>
<text x="112.7" y="976.8" font-size="10" fill="#3ce010" text-anchor="middle" font-weight="normal" stroke="#3ce010" stroke-width="0.1">132</text>
<text x="207.5" y="976.8" font-size="10" fill="#3ce010" text-anchor="middle" font-weight="normal" stroke="#3ce010" stroke-width="0.1">120</text>
<text x="306.8" y="976.8" font-size="10" fill="#3ce010" text-anchor="middle" font-weight="normal" stroke="#3ce010" stroke-width="0.1">94</text>
<text x="406.3" y="976.8" font-size="10" fill="#3ce010" text-anchor="middle" font-weight="normal" stroke="#3ce010" stroke-width="0.1">11</text>
<text x="505.9" y="976.8" font-size="10" fill="#3ce010" text-anchor="middle" font-weight="normal" stroke="#3ce010" stroke-width="0.1">0</text>
</svg>
</body></html>
